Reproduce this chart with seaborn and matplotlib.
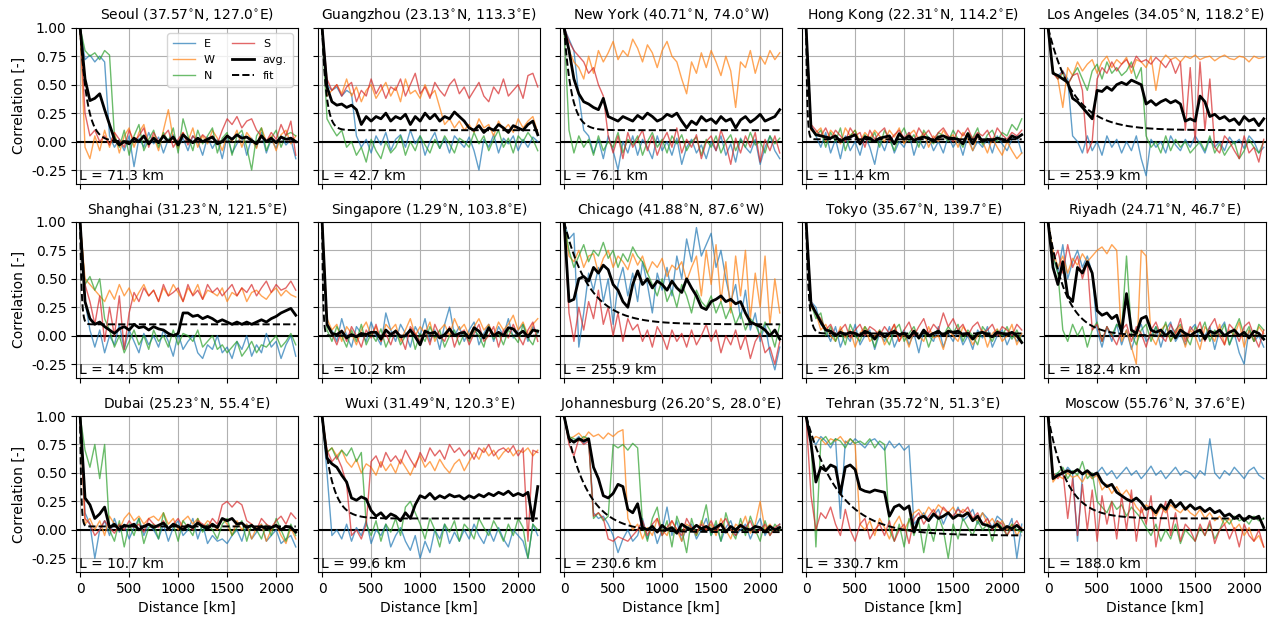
import numpy as np
import pandas as pd
import matplotlib
matplotlib.use("Agg")
import matplotlib.pyplot as plt
import seaborn as sns
from matplotlib.lines import Line2D

# distance grid (km), one value every 50 km
dist = list(range(0, 2201, 50))

cities = ["Seoul", "Guangzhou", "New York", "Hong Kong", "Los Angeles",
          "Shanghai", "Singapore", "Chicago", "Tokyo", "Riyadh",
          "Dubai", "Wuxi", "Johannesburg", "Tehran", "Moscow"]
coords = ["37.57$^{\\circ}$N, 127.0$^{\\circ}$E", "23.13$^{\\circ}$N, 113.3$^{\\circ}$E",
          "40.71$^{\\circ}$N, 74.0$^{\\circ}$W", "22.31$^{\\circ}$N, 114.2$^{\\circ}$E",
          "34.05$^{\\circ}$N, 118.2$^{\\circ}$E", "31.23$^{\\circ}$N, 121.5$^{\\circ}$E",
          "1.29$^{\\circ}$N, 103.8$^{\\circ}$E", "41.88$^{\\circ}$N, 87.6$^{\\circ}$W",
          "35.67$^{\\circ}$N, 139.7$^{\\circ}$E", "24.71$^{\\circ}$N, 46.7$^{\\circ}$E",
          "25.23$^{\\circ}$N, 55.4$^{\\circ}$E", "31.49$^{\\circ}$N, 120.3$^{\\circ}$E",
          "26.20$^{\\circ}$S, 28.0$^{\\circ}$E", "35.72$^{\\circ}$N, 51.3$^{\\circ}$E",
          "55.76$^{\\circ}$N, 37.6$^{\\circ}$E"]
L_km = [71.3, 42.7, 76.1, 11.4, 253.9, 14.5, 10.2, 255.9, 26.3, 182.4, 10.7, 99.6, 230.6, 330.7, 188.0]
fit_offset = [0.0, 0.1, 0.1, 0.02, 0.1, 0.1, 0.0, 0.1, 0.02, 0.0, 0.03, 0.1, -0.02, -0.05, 0.1]

# ---------------- Seoul ----------------
seoul_E = [1.00, 0.72, 0.76, 0.70, 0.75, 0.70, 0.05, -0.05, 0.02, -0.08, 0.05, -0.22, 0.03, -0.05, 0.08,
           -0.02, 0.04, -0.10, 0.02, 0.06, -0.05, 0.03, -0.08, 0.05, 0.00, -0.12, 0.04, -0.06, 0.02, -0.15,
           0.05, -0.10, -0.02, 0.06, -0.12, 0.03, -0.05, 0.08, -0.10, 0.02, -0.06, 0.05, -0.03, 0.02, -0.15]
seoul_W = [1.00, -0.05, -0.15, 0.05, -0.08, 0.10, -0.05, 0.08, -0.10, 0.05, 0.12, -0.05, 0.08, 0.15, -0.03,
           0.05, -0.08, 0.10, 0.28, 0.02, -0.06, 0.08, 0.00, 0.12, -0.05, 0.05, -0.02, 0.10, 0.03, -0.08,
           0.06, 0.00, 0.10, -0.05, 0.08, 0.02, -0.06, 0.12, 0.00, 0.05, -0.08, 0.06, 0.10, -0.02, 0.05]
seoul_N = [1.00, 0.80, 0.75, 0.78, 0.72, 0.80, 0.76, 0.05, -0.05, 0.10, -0.12, 0.05, 0.15, -0.08, 0.02,
           0.10, -0.05, 0.08, 0.00, 0.12, -0.10, 0.20, 0.05, -0.08, 0.10, -0.02, 0.05, 0.12, -0.10, 0.03,
           0.08, -0.12, 0.05, 0.10, -0.05, -0.25, 0.05, 0.12, -0.08, 0.03, 0.10, -0.05, 0.06, 0.08, 0.05]
seoul_S = [1.00, 0.25, 0.05, 0.10, 0.00, 0.05, -0.03, 0.08, 0.02, -0.05, 0.10, 0.00, 0.05, 0.12, -0.05,
           0.08, 0.00, 0.05, 0.10, -0.05, 0.02, 0.08, -0.03, 0.05, 0.00, 0.06, 0.02, 0.05, -0.02, 0.10,
           0.20, 0.15, 0.22, 0.12, 0.18, 0.20, 0.10, 0.05, 0.00, 0.08, 0.02, 0.15, 0.05, 0.18, -0.12]
seoul_avg = [1.00, 0.55, 0.36, 0.38, 0.42, 0.28, 0.15, 0.02, -0.03, 0.00, -0.02, 0.03, 0.00, 0.05, -0.02,
             0.03, -0.01, 0.05, 0.00, 0.04, -0.03, 0.06, 0.02, -0.01, 0.03, 0.00, 0.02, 0.04, -0.02, 0.00,
             0.05, 0.02, 0.06, 0.03, 0.04, 0.01, -0.02, 0.05, 0.00, 0.03, -0.01, 0.04, 0.02, 0.03, 0.00]

# ---------------- Guangzhou ----------------
guangzhou_E = [1.00, 0.50, 0.45, 0.48, 0.40, 0.45, 0.42, 0.05, -0.05, 0.02, -0.10, 0.05, -0.03, 0.08, -0.08,
               0.02, 0.06, -0.05, 0.10, -0.02, 0.05, -0.12, 0.00, 0.08, -0.06, 0.03, -0.10, 0.05, 0.00, -0.05,
               0.04, -0.08, -0.25, 0.02, -0.05, 0.06, -0.10, 0.03, -0.02, 0.05, -0.08, 0.02, -0.05, 0.04, 0.00]
guangzhou_W = [1.00, 0.40, 0.45, 0.50, 0.42, 0.55, 0.40, 0.48, 0.35, 0.45, 0.50, 0.38, 0.45, 0.52, 0.40,
               0.48, 0.35, 0.55, 0.42, 0.45, 0.38, 0.50, 0.40, 0.45, 0.30, 0.15, 0.20, 0.12, 0.18, 0.10,
               0.15, 0.08, 0.20, 0.12, 0.15, 0.05, 0.18, 0.10, 0.15, 0.08, 0.20, 0.12, 0.18, 0.22, 0.08]
guangzhou_N = [1.00, 0.20, 0.12, 0.05, 0.10, -0.05, 0.00, -0.12, -0.05, -0.18, 0.02, -0.08, -0.15, 0.00, -0.10,
               -0.05, 0.05, -0.12, 0.00, -0.08, 0.05, -0.03, -0.10, 0.02, -0.06, 0.05, -0.02, -0.10, 0.03, 0.00,
               -0.05, 0.08, -0.02, 0.05, -0.08, 0.02, 0.10, -0.05, 0.03, -0.10, 0.05, 0.00, 0.08, 0.02, -0.08]
guangzhou_S = [1.00, 0.55, 0.45, 0.50, 0.40, 0.48, 0.52, 0.35, 0.45, 0.40, 0.55, 0.42, 0.50, 0.38, 0.48,
               0.45, 0.55, 0.40, 0.50, 0.60, 0.42, 0.48, 0.38, 0.52, 0.45, 0.40, 0.50, 0.55, 0.42, 0.48,
               0.38, 0.45, 0.52, 0.40, 0.35, 0.48, 0.42, 0.55, 0.40, 0.45, 0.50, 0.38, 0.58, 0.60, 0.48]
guangzhou_avg = [1.00, 0.48, 0.35, 0.32, 0.33, 0.30, 0.32, 0.28, 0.15, 0.22, 0.18, 0.22, 0.20, 0.25, 0.18,
                 0.22, 0.20, 0.24, 0.15, 0.22, 0.18, 0.25, 0.20, 0.24, 0.18, 0.22, 0.20, 0.26, 0.22, 0.18,
                 0.12, 0.10, 0.14, 0.08, 0.12, 0.10, 0.15, 0.12, 0.08, 0.14, 0.12, 0.10, 0.15, 0.18, 0.06]

# ---------------- New York ----------------
newyork_E = [1.00, 0.90, 0.80, 0.40, 0.10, 0.05, -0.10, 0.02, -0.15, 0.05, -0.08, -0.25, 0.00, -0.10, 0.05,
             -0.12, 0.02, -0.05, -0.15, 0.05, -0.08, 0.00, -0.12, 0.03, -0.20, -0.05, 0.02, -0.10, -0.03, -0.15,
             0.00, -0.08, 0.05, -0.12, -0.02, -0.18, 0.03, -0.05, -0.10, 0.02, -0.20, -0.05, 0.05, -0.08, -0.15]
newyork_W = [1.00, 0.80, 0.70, 0.65, 0.55, 0.75, 0.60, 0.80, 0.70, 0.78, 0.88, 0.72, 0.80, 0.75, 0.90,
             0.82, 0.70, 0.85, 0.78, 0.65, 0.80, 0.88, 0.75, 0.70, 0.55, 0.42, 0.70, 0.60, 0.78, 0.65,
             0.80, 0.70, 0.58, 0.75, 0.62, 0.30, 0.70, 0.65, 0.80, 0.60, 0.75, 0.68, 0.80, 0.72, 0.78]
newyork_N = [1.00, 0.10, -0.10, 0.05, -0.05, 0.02, -0.12, 0.05, -0.08, 0.00, -0.05, 0.08, -0.10, 0.02, -0.03,
             0.05, -0.12, 0.00, 0.08, -0.05, 0.02, -0.10, 0.05, -0.02, 0.06, -0.08, 0.00, 0.04, -0.12, 0.02,
             -0.05, 0.05, -0.10, 0.00, 0.06, -0.08, 0.02, -0.05, 0.08, -0.03, 0.00, -0.10, 0.05, -0.02, 0.03]
newyork_S = [1.00, 0.88, 0.80, 0.75, 0.70, 0.60, 0.65, 0.50, 0.40, 0.05, -0.10, 0.05, -0.15, 0.08, -0.05,
             0.02, 0.10, -0.08, 0.05, -0.12, 0.00, 0.08, -0.05, 0.12, -0.10, 0.02, -0.05, 0.06, -0.15, 0.00,
             0.05, -0.08, 0.10, -0.02, -0.20, 0.03, -0.10, 0.05, -0.05, 0.08, -0.18, 0.02, -0.08, 0.05, -0.10]
newyork_avg = [1.00, 0.80, 0.55, 0.42, 0.35, 0.33, 0.30, 0.28, 0.38, 0.22, 0.20, 0.18, 0.22, 0.20, 0.18,
               0.23, 0.20, 0.25, 0.22, 0.18, 0.20, 0.24, 0.22, 0.25, 0.18, 0.12, 0.18, 0.15, 0.22, 0.18,
               0.20, 0.16, 0.22, 0.18, 0.20, 0.12, 0.19, 0.22, 0.17, 0.20, 0.24, 0.18, 0.20, 0.22, 0.28]

# ---------------- Hong Kong ----------------
hongkong_E = [1.00, 0.15, 0.05, -0.05, 0.08, -0.10, 0.02, -0.15, 0.05, -0.08, 0.00, -0.12, 0.05, -0.05, -0.20,
              0.02, -0.08, 0.05, -0.10, 0.00, -0.05, 0.08, -0.12, 0.02, -0.06, 0.04, -0.08, 0.00, -0.10, 0.05,
              -0.05, 0.02, -0.12, 0.05, -0.08, 0.00, -0.05, 0.03, -0.10, 0.05, -0.02, -0.08, 0.02, 0.05, -0.10]
hongkong_W = [1.00, 0.10, 0.08, 0.12, 0.00, 0.10, 0.05, -0.02, 0.12, 0.05, 0.10, 0.00, 0.08, 0.03, 0.10,
              0.05, 0.00, 0.10, 0.04, 0.12, -0.02, 0.06, 0.10, 0.02, 0.08, -0.05, 0.05, 0.00, 0.10, 0.03,
              0.06, -0.05, 0.08, 0.02, -0.08, 0.05, 0.00, -0.10, 0.03, -0.05, -0.12, 0.00, -0.08, -0.15, -0.10]
hongkong_N = [1.00, 0.12, 0.05, 0.10, -0.05, 0.08, 0.00, 0.12, -0.08, 0.05, 0.10, -0.03, 0.06, 0.00, 0.08,
              -0.05, 0.10, 0.02, -0.08, 0.05, 0.12, 0.00, 0.06, -0.05, 0.10, 0.03, -0.02, 0.08, 0.05, 0.00,
              0.10, 0.02, -0.05, 0.08, 0.03, 0.12, -0.03, 0.06, 0.10, 0.00, 0.08, 0.05, 0.15, 0.10, 0.20]
hongkong_S = [1.00, 0.15, 0.10, 0.05, 0.12, 0.02, 0.10, 0.05, 0.00, 0.12, 0.05, 0.08, -0.05, 0.10, 0.02,
              0.08, 0.12, 0.00, 0.06, 0.10, 0.03, 0.08, 0.00, 0.12, 0.05, 0.10, 0.02, 0.08, 0.12, 0.05,
              0.00, 0.10, 0.05, 0.12, 0.02, 0.08, 0.05, 0.10, 0.00, 0.12, 0.06, 0.02, 0.08, 0.05, 0.10]
hongkong_avg = [1.00, 0.12, 0.06, 0.05, 0.04, 0.03, 0.05, 0.00, 0.03, 0.04, 0.06, -0.02, 0.04, 0.03, 0.00,
                0.03, 0.04, 0.05, -0.02, 0.07, 0.02, 0.05, 0.01, 0.03, 0.04, 0.03, 0.00, 0.04, 0.05, 0.03,
                0.03, 0.02, -0.02, 0.07, -0.02, 0.06, 0.00, 0.02, 0.01, 0.03, 0.02, 0.00, 0.05, 0.03, 0.06]

# ---------------- Los Angeles ----------------
losangeles_E = [1.00, 0.60, 0.58, 0.62, 0.55, 0.05, 0.00, -0.10, 0.05, -0.08, 0.00, -0.12, 0.05, -0.05, 0.02,
                -0.10, 0.00, -0.08, 0.05, -0.15, -0.30, 0.02, -0.05, 0.00, -0.10, 0.05, -0.03, -0.08, 0.02, -0.05,
                0.05, -0.02, -0.10, 0.03, -0.05, 0.00, -0.08, 0.04, -0.02, 0.02, -0.06, 0.05, 0.00, -0.10, -0.05]
losangeles_W = [1.00, 0.62, 0.55, 0.30, 0.65, 0.58, 0.70, 0.62, 0.68, 0.72, 0.60, 0.70, 0.75, 0.65, 0.72,
                0.68, 0.74, 0.60, 0.72, 0.70, 0.65, 0.75, 0.45, 0.70, 0.76, 0.72, 0.74, 0.70, 0.75, 0.73,
                0.76, 0.72, 0.74, 0.75, 0.71, 0.74, 0.76, 0.73, 0.72, 0.75, 0.74, 0.70, 0.75, 0.73, 0.74]
losangeles_N = [1.00, 0.62, 0.55, 0.60, 0.50, 0.58, 0.65, 0.55, 0.45, 0.62, 0.68, 0.55, 0.70, 0.60, 0.65,
                0.58, 0.62, 0.70, 0.55, 0.65, 0.05, -0.05, 0.00, -0.10, 0.05, -0.08, 0.02, -0.05, 0.00, -0.10,
                -0.05, 0.00, -0.08, 0.05, -0.10, -0.02, -0.12, -0.05, 0.00, -0.15, -0.08, 0.02, -0.05, -0.10, 0.00]
losangeles_S = [1.00, 0.60, 0.55, 0.62, 0.50, 0.58, 0.60, 0.45, -0.10, 0.00, 0.55, 0.65, 0.60, 0.70, 0.62,
                0.68, 0.72, 0.65, 0.75, 0.70, 0.72, 0.68, 0.74, 0.70, 0.65, 0.72, 0.60, 0.70, 0.10, 0.65,
                0.00, 0.70, 0.10, 0.55, -0.05, -0.10, 0.05, 0.00, -0.08, -0.15, 0.05, -0.10, -0.05, -0.18, 0.02]
losangeles_avg = [1.00, 0.60, 0.58, 0.55, 0.52, 0.38, 0.35, 0.30, 0.25, 0.20, 0.45, 0.44, 0.48, 0.45, 0.50,
                  0.52, 0.50, 0.54, 0.52, 0.50, 0.33, 0.36, 0.32, 0.35, 0.37, 0.34, 0.36, 0.33, 0.18, 0.20,
                  0.18, 0.40, 0.35, 0.22, 0.24, 0.20, 0.22, 0.18, 0.20, 0.15, 0.22, 0.18, 0.20, 0.14, 0.20]

# ---------------- Shanghai ----------------
shanghai_E = [1.00, 0.30, 0.05, -0.10, 0.05, -0.15, 0.00, -0.08, 0.10, -0.12, 0.05, -0.05, -0.15, 0.02, -0.08,
              0.00, -0.10, 0.05, -0.05, -0.18, 0.02, -0.12, -0.05, 0.00, -0.15, -0.20, -0.08, -0.12, 0.00, -0.15,
              -0.10, -0.20, -0.05, -0.12, 0.00, -0.18, -0.08, -0.15, 0.02, -0.10, -0.05, -0.20, -0.08, 0.00, -0.18]
shanghai_W = [1.00, 0.50, 0.45, 0.40, 0.35, 0.30, 0.40, 0.32, 0.45, 0.35, 0.42, 0.30, 0.38, 0.45, 0.35,
              0.40, 0.30, 0.42, 0.35, 0.45, 0.38, 0.30, 0.42, 0.36, 0.45, 0.32, 0.40, 0.38, 0.35, 0.42,
              0.30, 0.38, 0.35, 0.42, 0.30, 0.38, 0.40, 0.35, 0.32, 0.38, 0.42, 0.35, 0.40, 0.36, 0.34]
shanghai_N = [1.00, 0.45, 0.52, 0.40, 0.50, 0.15, 0.05, -0.10, 0.00, -0.15, -0.05, 0.05, -0.08, 0.00, -0.12,
              0.05, -0.05, 0.00, -0.10, 0.05, -0.08, 0.02, 0.00, -0.05, 0.05, -0.10, -0.05, 0.00, -0.12, -0.08,
              -0.15, -0.10, -0.05, -0.18, -0.12, -0.05, -0.15, -0.08, -0.10, -0.05, 0.00, -0.10, -0.05, 0.02, -0.08]
shanghai_S = [1.00, 0.45, 0.30, 0.10, 0.35, -0.05, 0.25, 0.00, 0.35, -0.12, 0.20, 0.38, 0.30, 0.42, 0.35,
              0.40, 0.30, 0.45, 0.35, 0.38, 0.42, 0.30, 0.45, 0.35, 0.40, 0.32, 0.45, 0.38, 0.42, 0.35,
              0.40, 0.45, 0.35, 0.42, 0.38, 0.45, 0.35, 0.42, 0.48, 0.38, 0.45, 0.40, 0.42, 0.48, 0.40]
shanghai_avg = [1.00, 0.30, 0.15, 0.10, 0.12, 0.08, 0.05, 0.02, 0.06, 0.08, 0.05, 0.10, 0.07, 0.08, 0.05,
                0.08, 0.06, 0.05, 0.02, 0.00, 0.02, 0.20, 0.20, 0.17, 0.18, 0.15, 0.17, 0.15, 0.12, 0.14,
                0.12, 0.10, 0.12, 0.10, 0.12, 0.10, 0.12, 0.14, 0.12, 0.15, 0.17, 0.20, 0.22, 0.24, 0.18]

# ---------------- Singapore ----------------
singapore_E = [1.00, 0.10, 0.05, -0.05, 0.15, 0.00, -0.10, 0.08, 0.02, -0.05, 0.12, 0.00, -0.08, 0.20, 0.05,
               -0.05, 0.10, 0.02, -0.10, 0.08, 0.00, 0.15, -0.05, 0.05, -0.12, 0.10, 0.25, 0.00, 0.08, -0.05,
               0.05, 0.12, -0.08, 0.02, 0.10, -0.05, 0.08, 0.00, 0.15, -0.02, 0.05, 0.10, -0.05, 0.08, 0.02]
singapore_W = [1.00, 0.15, 0.05, 0.10, -0.05, 0.08, 0.02, -0.08, 0.05, 0.12, 0.00, 0.08, -0.05, 0.10, 0.05,
               0.10, -0.05, 0.05, 0.15, 0.00, 0.08, 0.02, 0.12, -0.05, 0.05, 0.10, 0.00, 0.15, 0.05, 0.10,
               0.00, 0.08, 0.15, 0.05, 0.10, 0.00, 0.12, 0.05, 0.10, 0.18, 0.05, 0.12, 0.00, 0.10, 0.15]
singapore_N = [1.00, 0.05, -0.05, 0.08, 0.00, -0.10, 0.05, -0.05, 0.10, -0.08, 0.02, -0.05, 0.06, -0.10, 0.00,
               0.05, -0.08, 0.00, 0.06, -0.12, 0.02, -0.05, 0.08, -0.02, 0.05, -0.10, 0.00, 0.05, -0.08, 0.02,
               -0.05, 0.05, 0.00, -0.10, 0.08, -0.03, 0.02, -0.08, 0.05, 0.00, -0.06, 0.10, -0.02, -0.08, 0.05]
singapore_S = [1.00, 0.10, 0.02, -0.08, 0.05, -0.05, 0.08, 0.00, -0.10, 0.05, -0.02, 0.10, -0.05, 0.02, -0.08,
               0.05, 0.00, -0.12, 0.08, 0.02, -0.05, 0.05, -0.08, 0.10, 0.00, -0.05, 0.08, -0.10, 0.02, 0.05,
               -0.08, 0.02, 0.10, -0.05, 0.00, 0.08, -0.10, 0.05, -0.02, 0.10, 0.00, -0.08, 0.05, 0.12, -0.05]
singapore_avg = [1.00, 0.10, 0.02, 0.01, 0.04, -0.02, 0.01, -0.01, 0.02, 0.01, 0.03, 0.03, -0.03, 0.05, 0.01,
                 0.04, -0.01, 0.00, 0.05, -0.01, -0.08, 0.04, 0.02, 0.03, -0.02, 0.01, 0.06, 0.00, 0.02, 0.03,
                 -0.02, 0.07, 0.04, -0.02, 0.07, 0.00, 0.03, 0.00, 0.07, 0.06, 0.01, 0.04, -0.01, 0.05, 0.04]

# ---------------- Chicago ----------------
chicago_E = [1.00, 0.85, 0.90, -0.10, 0.20, 0.55, 0.40, 0.60, 0.30, 0.50, 0.10, 0.45, 0.60, 0.35, 0.55,
             0.30, 0.65, 0.45, 0.20, 0.55, 0.40, 0.60, 0.35, 0.70, 0.50, 0.85, 0.65, 0.95, 0.70, 0.80,
             0.90, 0.60, 0.75, 0.50, 0.30, 0.45, 0.15, 0.40, 0.05, 0.20, -0.05, 0.10, -0.15, -0.30, -0.10]
chicago_W = [1.00, 0.70, 0.65, 0.75, 0.60, 0.70, 0.72, 0.55, 0.68, 0.75, 0.60, 0.70, 0.65, 0.58, 0.72,
             0.62, 0.70, 0.55, 0.65, 0.60, 0.68, 0.52, 0.62, 0.58, 0.65, 0.48, 0.60, 0.70, 0.35, 0.75,
             0.45, 0.80, 0.30, 0.65, 0.20, 0.70, 0.35, 0.75, 0.15, 0.55, 0.25, 0.70, 0.10, 0.50, 0.20]
chicago_N = [1.00, 0.75, 0.60, 0.70, 0.80, 0.65, 0.75, 0.70, 0.82, 0.68, 0.75, 0.60, 0.72, 0.65, 0.78,
             0.70, 0.65, 0.55, 0.45, 0.35, 0.50, 0.30, 0.40, 0.25, 0.45, 0.35, 0.20, 0.40, 0.30, 0.25,
             0.35, 0.20, 0.30, 0.15, 0.25, 0.10, 0.20, 0.05, 0.15, 0.10, 0.00, 0.12, 0.05, -0.10, 0.10]
chicago_S = [1.00, 0.20, -0.05, 0.25, 0.05, 0.30, 0.15, 0.40, 0.10, 0.25, 0.00, 0.20, -0.05, 0.15, 0.05,
             0.10, -0.05, 0.05, -0.10, 0.08, 0.00, -0.12, 0.05, -0.05, 0.02, -0.10, 0.05, -0.08, 0.00, 0.10,
             -0.05, 0.05, -0.15, 0.00, -0.08, 0.05, -0.12, 0.00, -0.20, -0.05, 0.02, -0.15, -0.10, -0.25, -0.05]
chicago_avg = [1.00, 0.30, 0.32, 0.50, 0.52, 0.48, 0.60, 0.55, 0.62, 0.58, 0.45, 0.40, 0.30, 0.25, 0.45,
               0.57, 0.45, 0.50, 0.42, 0.48, 0.45, 0.40, 0.48, 0.42, 0.38, 0.50, 0.42, 0.35, 0.25, 0.23,
               0.30, 0.32, 0.35, 0.30, 0.32, 0.28, 0.30, 0.20, 0.12, 0.10, 0.08, 0.05, 0.00, 0.05, -0.03]

# ---------------- Tokyo ----------------
tokyo_E = [1.00, 0.30, 0.25, 0.10, 0.05, -0.05, 0.08, -0.10, 0.02, -0.05, 0.10, -0.08, 0.00, 0.05, -0.12,
           0.02, -0.05, 0.08, -0.10, 0.00, 0.05, -0.08, 0.02, -0.15, 0.05, 0.00, -0.05, 0.08, -0.10, 0.02,
           -0.05, 0.05, -0.08, 0.00, -0.12, 0.05, -0.02, 0.08, -0.10, 0.00, 0.05, -0.08, 0.02, -0.05, 0.00]
tokyo_W = [1.00, 0.25, 0.20, 0.05, 0.10, 0.00, -0.05, 0.08, -0.02, 0.05, -0.10, 0.02, 0.08, -0.05, 0.00,
           0.05, -0.08, 0.00, 0.10, -0.05, 0.02, -0.10, 0.05, 0.00, -0.05, 0.08, -0.02, 0.00, -0.12, 0.05,
           0.00, -0.05, 0.08, 0.02, -0.08, 0.00, 0.05, -0.10, 0.02, 0.06, -0.05, 0.00, 0.10, -0.08, 0.02]
tokyo_N = [1.00, 0.28, 0.15, 0.20, 0.00, 0.08, -0.05, 0.05, -0.08, 0.10, 0.00, -0.05, 0.08, 0.02, -0.10,
           0.05, 0.00, -0.08, 0.05, 0.10, -0.05, 0.02, 0.08, -0.03, 0.05, -0.10, 0.02, 0.05, 0.00, 0.08,
           0.02, 0.10, -0.05, 0.05, 0.00, -0.08, 0.08, 0.02, -0.05, 0.05, 0.00, 0.08, -0.03, 0.05, -0.05]
tokyo_S = [1.00, 0.30, 0.20, 0.15, 0.05, 0.10, 0.00, 0.05, 0.10, -0.02, 0.05, 0.10, 0.00, 0.08, 0.05,
           0.00, 0.08, 0.02, 0.10, -0.05, 0.05, 0.12, 0.00, 0.08, 0.15, 0.02, 0.10, 0.05, 0.20, 0.08,
           0.15, 0.05, 0.10, 0.00, 0.08, 0.12, 0.02, 0.05, 0.10, 0.00, 0.08, 0.05, 0.00, 0.10, 0.05]
tokyo_avg = [1.00, 0.28, 0.20, 0.12, 0.05, 0.04, 0.00, 0.03, 0.01, 0.03, 0.02, 0.00, 0.04, 0.02, -0.03,
             0.03, -0.01, 0.02, 0.04, 0.01, 0.02, -0.02, 0.04, -0.02, 0.05, 0.00, 0.02, 0.04, 0.00, 0.04,
             0.03, 0.04, 0.01, 0.02, -0.03, 0.02, 0.03, 0.01, -0.01, 0.03, 0.02, 0.01, 0.03, 0.00, -0.06]

# ---------------- Riyadh ----------------
riyadh_E = [1.00, 0.70, 0.55, 0.80, 0.50, 0.65, 0.75, 0.60, 0.70, 0.55, 0.05, -0.10, 0.08, -0.05, 0.10,
            -0.08, 0.05, -0.12, 0.02, 0.10, -0.05, 0.00, 0.08, -0.10, 0.05, 0.12, -0.05, 0.02, -0.08, 0.05,
            0.10, -0.05, 0.00, 0.08, -0.12, 0.05, 0.12, -0.08, 0.02, -0.15, -0.25, 0.05, -0.05, 0.00, -0.10]
riyadh_W = [1.00, 0.75, 0.60, 0.70, 0.55, 0.68, 0.62, 0.72, 0.65, 0.70, 0.75, 0.78, 0.72, 0.80, 0.75,
            -0.05, 0.05, -0.10, -0.25, 0.75, 0.70, 0.00, -0.08, 0.05, 0.10, -0.05, 0.02, 0.08, -0.10, 0.05,
            0.00, -0.12, 0.08, 0.02, -0.05, 0.10, -0.08, 0.05, 0.00, 0.12, -0.10, 0.05, -0.05, 0.08, 0.02]
riyadh_N = [1.00, 0.70, 0.55, 0.05, -0.05, 0.10, 0.00, 0.08, -0.10, 0.05, 0.12, -0.05, 0.08, 0.00, 0.10,
            0.05, 0.70, 0.02, -0.08, 0.05, 0.10, -0.05, 0.08, 0.00, 0.12, -0.05, 0.05, 0.10, 0.00, -0.08,
            0.08, 0.02, 0.12, -0.05, 0.05, 0.00, 0.10, -0.08, 0.05, 0.15, 0.00, 0.08, -0.05, 0.10, 0.05]
riyadh_S = [1.00, 0.65, 0.75, 0.55, 0.80, 0.60, 0.70, 0.50, 0.65, 0.05, 0.10, -0.05, 0.08, 0.00, -0.08,
            0.05, 0.10, -0.05, 0.08, 0.02, -0.10, 0.05, 0.12, 0.00, -0.05, 0.10, 0.02, 0.15, -0.05, 0.08,
            0.02, 0.12, -0.05, 0.08, 0.15, 0.00, -0.08, 0.10, 0.05, -0.05, 0.08, 0.12, 0.00, -0.10, 0.05]
riyadh_avg = [1.00, 0.60, 0.45, 0.65, 0.35, 0.30, 0.60, 0.55, 0.65, 0.55, 0.22, 0.18, 0.20, 0.15, 0.18,
              0.03, 0.37, 0.05, 0.02, 0.15, 0.17, 0.05, 0.03, 0.05, 0.00, 0.04, -0.02, 0.05, 0.02, 0.00,
              0.03, 0.05, -0.03, 0.04, 0.02, 0.05, 0.00, 0.03, 0.05, 0.00, 0.03, -0.02, 0.04, 0.02, -0.03]

# ---------------- Dubai ----------------
dubai_E = [1.00, 0.15, 0.05, -0.25, 0.00, 0.08, -0.05, 0.10, -0.02, 0.05, -0.08, 0.02, 0.10, -0.05, 0.05,
           0.00, -0.08, 0.05, -0.10, 0.02, 0.08, -0.05, 0.00, 0.10, -0.08, 0.05, -0.12, -0.05, -0.10, -0.08,
           -0.12, -0.05, 0.00, -0.10, 0.05, -0.08, -0.02, 0.05, -0.10, -0.05, 0.00, -0.12, -0.08, -0.05, -0.15]
dubai_W = [1.00, 0.05, 0.10, 0.00, 0.08, -0.05, 0.12, 0.05, 0.00, 0.10, 0.15, 0.08, 0.12, 0.05, 0.10,
           0.12, 0.08, 0.15, 0.05, 0.10, 0.00, 0.08, 0.12, 0.05, 0.10, 0.02, 0.08, 0.05, 0.00, 0.10,
           0.05, -0.05, 0.08, 0.00, 0.05, -0.08, 0.02, 0.05, -0.10, 0.00, 0.05, -0.05, -0.12, 0.02, -0.08]
dubai_N = [1.00, 0.70, 0.55, 0.75, 0.45, 0.75, 0.00, -0.10, 0.08, -0.15, 0.05, -0.05, 0.10, -0.12, 0.02,
           0.05, -0.08, 0.15, 0.00, 0.05, -0.10, 0.08, 0.02, -0.05, 0.10, -0.02, 0.05, 0.00, -0.08, 0.05,
           0.10, -0.05, 0.02, 0.08, -0.10, 0.05, 0.00, -0.08, 0.05, -0.05, 0.10, 0.00, -0.10, 0.05, -0.05]
dubai_S = [1.00, 0.10, 0.05, -0.05, 0.00, 0.08, 0.02, -0.03, 0.05, 0.00, 0.08, 0.02, 0.05, -0.02, 0.10,
           0.05, 0.02, 0.08, 0.00, 0.05, 0.10, 0.02, 0.05, 0.00, 0.08, 0.05, 0.02, 0.10, 0.05, 0.22,
           0.25, 0.20, 0.25, 0.22, 0.08, 0.05, 0.00, 0.10, 0.05, 0.02, 0.08, 0.12, 0.05, 0.15, 0.10]
dubai_avg = [1.00, 0.28, 0.22, 0.10, 0.14, 0.20, 0.02, 0.05, 0.00, 0.04, 0.03, 0.05, 0.00, 0.03, 0.05,
             0.02, 0.04, 0.06, 0.01, 0.05, 0.03, 0.00, 0.04, 0.02, 0.06, 0.03, 0.01, 0.05, 0.02, 0.10,
             0.08, 0.10, 0.05, 0.06, 0.02, 0.04, 0.00, 0.03, 0.01, 0.02, 0.04, 0.00, 0.03, 0.02, -0.02]

# ---------------- Wuxi ----------------
wuxi_E = [1.00, 0.50, -0.05, 0.00, -0.08, 0.05, -0.10, 0.02, -0.05, 0.08, -0.12, 0.00, -0.05, 0.05, -0.15,
          -0.05, 0.02, -0.10, -0.18, -0.05, -0.25, -0.10, -0.20, 0.00, -0.08, 0.05, -0.12, -0.02, -0.10, 0.00,
          -0.08, 0.05, -0.05, -0.12, 0.00, -0.10, 0.02, -0.08, -0.15, 0.00, -0.05, -0.10, -0.25, 0.05, -0.05]
wuxi_W = [1.00, 0.68, 0.72, 0.65, 0.70, 0.60, 0.55, 0.62, 0.50, 0.58, 0.55, 0.48, 0.60, 0.52, 0.58,
          0.50, 0.62, 0.55, 0.48, 0.58, 0.65, 0.55, 0.60, 0.52, 0.62, 0.55, 0.50, 0.58, 0.62, 0.52,
          0.60, 0.68, 0.62, 0.72, 0.65, 0.70, 0.62, 0.68, 0.72, 0.65, 0.70, 0.68, 0.72, 0.65, 0.70]
wuxi_N = [1.00, 0.68, 0.72, 0.62, 0.70, 0.65, 0.72, 0.60, 0.68, 0.05, -0.05, 0.08, -0.10, 0.05, -0.02,
          0.10, -0.05, 0.20, 0.25, 0.15, 0.05, -0.08, 0.10, 0.00, -0.15, 0.05, -0.02, 0.08, -0.10, 0.05,
          0.00, -0.08, 0.10, 0.02, -0.05, 0.08, 0.00, -0.10, 0.05, -0.05, 0.10, 0.02, -0.25, 0.05, 0.00]
wuxi_S = [1.00, 0.70, 0.60, 0.65, 0.55, 0.40, -0.05, 0.00, -0.08, 0.05, 0.60, 0.65, 0.55, 0.68, 0.60,
          0.65, 0.58, 0.70, 0.62, 0.55, 0.68, 0.60, 0.72, 0.65, 0.70, 0.62, 0.75, 0.68, 0.72, 0.65,
          0.70, 0.62, 0.72, 0.68, 0.75, 0.65, 0.70, 0.72, 0.68, 0.74, 0.65, 0.72, -0.10, 0.70, 0.68]
wuxi_avg = [1.00, 0.63, 0.58, 0.55, 0.48, 0.42, 0.28, 0.26, 0.29, 0.27, 0.17, 0.12, 0.15, 0.10, 0.14,
            0.12, 0.08, 0.15, 0.10, 0.22, 0.30, 0.28, 0.32, 0.27, 0.30, 0.28, 0.31, 0.29, 0.30, 0.27,
            0.30, 0.28, 0.31, 0.29, 0.32, 0.30, 0.33, 0.31, 0.34, 0.30, 0.32, 0.30, 0.33, 0.08, 0.38]

# ---------------- Johannesburg ----------------
johannesburg_E = [1.00, 0.80, 0.78, 0.82, 0.76, 0.80, 0.15, 0.10, 0.12, 0.05, -0.05, -0.20, -0.08, 0.00, -0.10,
                  -0.05, 0.10, -0.08, 0.05, -0.12, 0.00, 0.20, -0.05, 0.08, -0.10, 0.02, 0.05, -0.08, 0.00, 0.10,
                  -0.05, 0.05, -0.10, 0.02, 0.08, -0.05, 0.00, 0.05, -0.08, 0.02, 0.10, -0.05, 0.03, -0.02, 0.05]
johannesburg_W = [1.00, 0.80, 0.82, 0.85, 0.80, 0.86, 0.82, 0.84, 0.80, 0.85, 0.82, 0.86, 0.88, 0.10, 0.00,
                  0.05, -0.08, 0.02, -0.05, 0.10, 0.00, -0.05, 0.08, 0.00, -0.10, 0.05, 0.02, -0.05, 0.08, 0.00,
                  0.05, -0.05, 0.10, 0.00, -0.08, 0.05, 0.02, 0.12, -0.03, 0.05, 0.25, 0.00, 0.05, -0.02, 0.03]
johannesburg_N = [1.00, 0.82, 0.80, 0.78, 0.82, 0.80, 0.10, 0.15, 0.08, 0.12, 0.75, 0.72, 0.75, 0.70, 0.76,
                  0.72, 0.05, -0.10, 0.10, 0.20, -0.05, 0.08, -0.15, 0.12, 0.00, -0.20, 0.10, -0.05, 0.05, 0.22,
                  -0.05, 0.08, -0.10, 0.15, 0.00, -0.08, 0.10, -0.05, 0.12, 0.00, -0.10, 0.08, -0.05, 0.05, 0.00]
johannesburg_S = [1.00, 0.75, 0.65, 0.80, 0.75, 0.78, 0.12, 0.15, 0.10, -0.08, -0.10, -0.06, -0.08, -0.10, -0.05,
                  0.00, 0.08, -0.05, 0.05, 0.10, -0.05, 0.02, 0.08, 0.00, -0.05, 0.10, 0.02, -0.03, 0.05, 0.00,
                  0.08, -0.02, 0.05, 0.10, 0.00, -0.05, 0.05, 0.02, 0.08, -0.03, 0.00, 0.05, -0.05, 0.02, 0.05]
johannesburg_avg = [1.00, 0.80, 0.77, 0.80, 0.78, 0.80, 0.55, 0.45, 0.30, 0.28, 0.32, 0.40, 0.38, 0.18, 0.15,
                    0.23, 0.02, 0.00, 0.03, -0.02, 0.04, 0.00, 0.02, -0.03, 0.05, 0.02, 0.00, 0.04, 0.01, 0.03,
                    0.00, 0.02, 0.05, -0.02, 0.03, 0.00, 0.04, 0.01, 0.00, 0.03, 0.02, -0.02, 0.03, 0.00, 0.02]

# ---------------- Tehran ----------------
tehran_E = [1.00, 0.80, 0.75, 0.82, 0.78, 0.72, 0.80, 0.10, 0.78, 0.75, 0.80, 0.76, 0.72, 0.78, 0.80,
            0.75, 0.70, 0.78, 0.72, 0.76, 0.70, 0.74, 0.05, 0.10, 0.15, 0.08, 0.12, 0.18, 0.05, 0.15,
            0.10, 0.20, 0.08, 0.12, 0.18, 0.05, 0.15, 0.10, 0.02, 0.12, 0.08, 0.00, 0.10, -0.25, 0.05]
tehran_W = [1.00, 0.78, 0.82, 0.80, 0.75, 0.80, 0.78, 0.82, 0.76, 0.80, 0.75, 0.05, 0.00, 0.08, -0.05,
            0.10, 0.02, -0.08, 0.05, 0.12, 0.00, 0.08, 0.15, 0.18, 0.12, 0.20, 0.15, 0.22, 0.18, 0.15,
            0.20, 0.12, 0.18, 0.15, 0.10, 0.08, 0.15, 0.05, 0.10, 0.02, 0.08, 0.00, 0.05, -0.05, 0.02]
tehran_N = [1.00, 0.80, -0.15, 0.78, 0.82, 0.75, 0.80, 0.78, 0.72, 0.80, 0.76, 0.78, 0.75, 0.80, 0.72,
            0.78, 0.75, 0.00, -0.10, 0.05, -0.15, 0.10, -0.05, 0.08, -0.20, 0.05, -0.10, 0.12, 0.00, -0.25,
            0.05, -0.08, 0.10, 0.02, -0.05, 0.08, 0.00, 0.05, -0.10, 0.08, 0.02, -0.05, 0.05, 0.00, -0.02]
tehran_S = [1.00, 0.30, 0.00, 0.15, 0.10, 0.20, 0.05, -0.05, 0.18, 0.00, -0.10, 0.05, 0.10, -0.08, 0.00,
            0.05, -0.05, 0.08, -0.10, 0.00, 0.05, -0.12, 0.10, 0.15, 0.05, 0.12, 0.18, 0.10, 0.20, 0.15,
            0.12, 0.18, 0.15, 0.20, 0.10, 0.15, 0.05, 0.10, 0.00, 0.08, 0.05, -0.05, 0.02, 0.08, 0.00]
tehran_avg = [1.00, 0.76, 0.42, 0.55, 0.52, 0.57, 0.55, 0.32, 0.55, 0.57, 0.53, 0.36, 0.34, 0.33, 0.35,
              0.34, 0.33, 0.12, 0.20, 0.22, 0.18, 0.21, -0.02, 0.10, 0.12, 0.08, 0.14, 0.10, 0.12, 0.15,
              0.10, 0.13, 0.12, 0.15, 0.08, 0.12, 0.05, 0.04, 0.02, 0.05, 0.00, 0.03, 0.01, 0.04, 0.00]

# ---------------- Moscow ----------------
moscow_E = [1.00, 0.45, 0.50, 0.48, 0.55, 0.50, -0.10, 0.48, 0.52, 0.45, 0.50, 0.55, 0.48, 0.52, 0.45,
            0.50, 0.55, 0.48, 0.52, 0.45, 0.50, 0.56, 0.48, 0.52, 0.45, 0.50, 0.55, 0.48, 0.52, 0.50,
            0.45, 0.52, 0.48, 0.80, 0.50, 0.45, 0.52, 0.48, 0.55, 0.50, 0.45, 0.52, 0.55, 0.48, 0.45]
moscow_W = [1.00, 0.42, 0.48, 0.45, 0.50, 0.46, 0.48, 0.42, 0.50, 0.45, 0.48, 0.35, 0.40, 0.32, 0.38,
            0.30, 0.35, 0.28, 0.20, 0.15, 0.22, 0.18, 0.12, 0.20, 0.15, 0.22, 0.18, 0.15, 0.20, 0.15,
            0.12, 0.18, 0.10, 0.15, 0.08, 0.12, 0.05, 0.10, 0.00, 0.05, -0.05, 0.02, -0.10, -0.05, -0.15]
moscow_N = [1.00, 0.48, 0.50, 0.55, 0.45, 0.52, 0.48, 0.60, 0.45, 0.50, 0.25, 0.20, 0.15, 0.25, 0.18,
            0.22, 0.12, 0.20, 0.15, 0.10, 0.02, -0.05, 0.05, -0.10, 0.00, -0.08, 0.05, -0.12, 0.00, -0.05,
            -0.10, 0.02, -0.05, 0.05, -0.08, 0.00, 0.10, 0.05, 0.12, 0.08, 0.10, 0.05, 0.12, 0.08, 0.10]
moscow_S = [1.00, 0.50, 0.45, 0.52, 0.10, 0.45, -0.05, 0.40, 0.00, 0.35, -0.10, 0.30, 0.05, 0.25, -0.08,
            0.30, 0.00, 0.35, -0.10, 0.20, 0.05, 0.30, -0.15, 0.10, 0.25, -0.05, 0.15, -0.10, 0.05, 0.00,
            -0.10, 0.05, -0.05, 0.08, -0.12, 0.00, 0.05, -0.08, 0.02, -0.15, 0.05, -0.05, -0.10, 0.00, -0.15]
moscow_avg = [1.00, 0.45, 0.48, 0.50, 0.52, 0.50, 0.53, 0.49, 0.52, 0.48, 0.50, 0.42, 0.38, 0.40, 0.33,
              0.30, 0.27, 0.25, 0.28, 0.24, 0.18, 0.20, 0.15, 0.22, 0.18, 0.26, 0.20, 0.24, 0.18, 0.22,
              0.18, 0.20, 0.16, 0.19, 0.15, 0.17, 0.12, 0.14, 0.10, 0.13, 0.08, 0.12, 0.10, 0.12, 0.02]

series = {
    "Seoul": (seoul_E, seoul_W, seoul_N, seoul_S, seoul_avg),
    "Guangzhou": (guangzhou_E, guangzhou_W, guangzhou_N, guangzhou_S, guangzhou_avg),
    "New York": (newyork_E, newyork_W, newyork_N, newyork_S, newyork_avg),
    "Hong Kong": (hongkong_E, hongkong_W, hongkong_N, hongkong_S, hongkong_avg),
    "Los Angeles": (losangeles_E, losangeles_W, losangeles_N, losangeles_S, losangeles_avg),
    "Shanghai": (shanghai_E, shanghai_W, shanghai_N, shanghai_S, shanghai_avg),
    "Singapore": (singapore_E, singapore_W, singapore_N, singapore_S, singapore_avg),
    "Chicago": (chicago_E, chicago_W, chicago_N, chicago_S, chicago_avg),
    "Tokyo": (tokyo_E, tokyo_W, tokyo_N, tokyo_S, tokyo_avg),
    "Riyadh": (riyadh_E, riyadh_W, riyadh_N, riyadh_S, riyadh_avg),
    "Dubai": (dubai_E, dubai_W, dubai_N, dubai_S, dubai_avg),
    "Wuxi": (wuxi_E, wuxi_W, wuxi_N, wuxi_S, wuxi_avg),
    "Johannesburg": (johannesburg_E, johannesburg_W, johannesburg_N, johannesburg_S, johannesburg_avg),
    "Tehran": (tehran_E, tehran_W, tehran_N, tehran_S, tehran_avg),
    "Moscow": (moscow_E, moscow_W, moscow_N, moscow_S, moscow_avg),
}

directions = ["E", "W", "N", "S"]
dir_colors = ["#1f77b4", "#ff7f0e", "#2ca02c", "#d62728"]

fig, axes = plt.subplots(3, 5, figsize=(12.7, 6.17), dpi=100, sharex=True, sharey=True)
fig.subplots_adjust(left=0.06, right=0.997, top=0.955, bottom=0.073, wspace=0.09, hspace=0.245)

fit_d = np.linspace(0, 2200, 400)

for k, city in enumerate(cities):
    ax = axes.flat[k]
    vals = series[city]
    rows = []
    for dname, v in zip(directions, vals[:4]):
        n = min(len(v), len(dist))
        for i in range(n):
            rows.append((dist[i], v[i], dname))
    df = pd.DataFrame(rows, columns=["dist", "corr", "dir"])
    sns.lineplot(data=df, x="dist", y="corr", hue="dir", hue_order=directions,
                 palette=dir_colors, estimator=None, lw=1.0, alpha=0.7, ax=ax, legend=False)
    av = vals[4]
    n = min(len(av), len(dist))
    sns.lineplot(x=dist[:n], y=av[:n], color="black", lw=2.0, estimator=None, ax=ax)
    c0 = fit_offset[k]
    fit_v = c0 + (1 - c0) * np.exp(-fit_d / L_km[k])
    sns.lineplot(x=fit_d, y=fit_v, color="black", lw=1.4, ls="--", estimator=None, ax=ax)
    ax.axhline(0, color="black", lw=1.5, zorder=1.5)
    ax.set_title(f"{city} ({coords[k]})", fontsize=10)
    ax.text(0.012, 0.005, f"L = {L_km[k]:.1f} km", transform=ax.transAxes,
            fontsize=10, ha="left", va="bottom")
    ax.grid(True, color="#b0b0b0", lw=0.8)
    ax.set_axisbelow(True)
    ax.set_xlim(-40, 2225)
    ax.set_ylim(-0.37, 1.0)
    ax.set_xticks([0, 500, 1000, 1500, 2000])
    ax.set_yticks([-0.25, 0.0, 0.25, 0.5, 0.75, 1.0])
    ax.yaxis.set_major_formatter(matplotlib.ticker.FormatStrFormatter("%.2f"))
    ax.tick_params(labelsize=10)
    ax.set_xlabel("Distance [km]" if k >= 10 else "", fontsize=10)
    ax.set_ylabel("Correlation [-]" if k % 5 == 0 else "", fontsize=10)

handles = [Line2D([], [], color=c, lw=1.0, alpha=0.7) for c in dir_colors]
handles += [Line2D([], [], color="black", lw=2.0), Line2D([], [], color="black", lw=1.4, ls="--")]
labels = directions + ["avg.", "fit"]
axes.flat[0].legend(handles, labels, ncol=2, fontsize=8, loc="upper right",
                    handlelength=2.0, columnspacing=1.5, borderpad=0.5, labelspacing=0.55)

fig.savefig("out.png", dpi=100)
